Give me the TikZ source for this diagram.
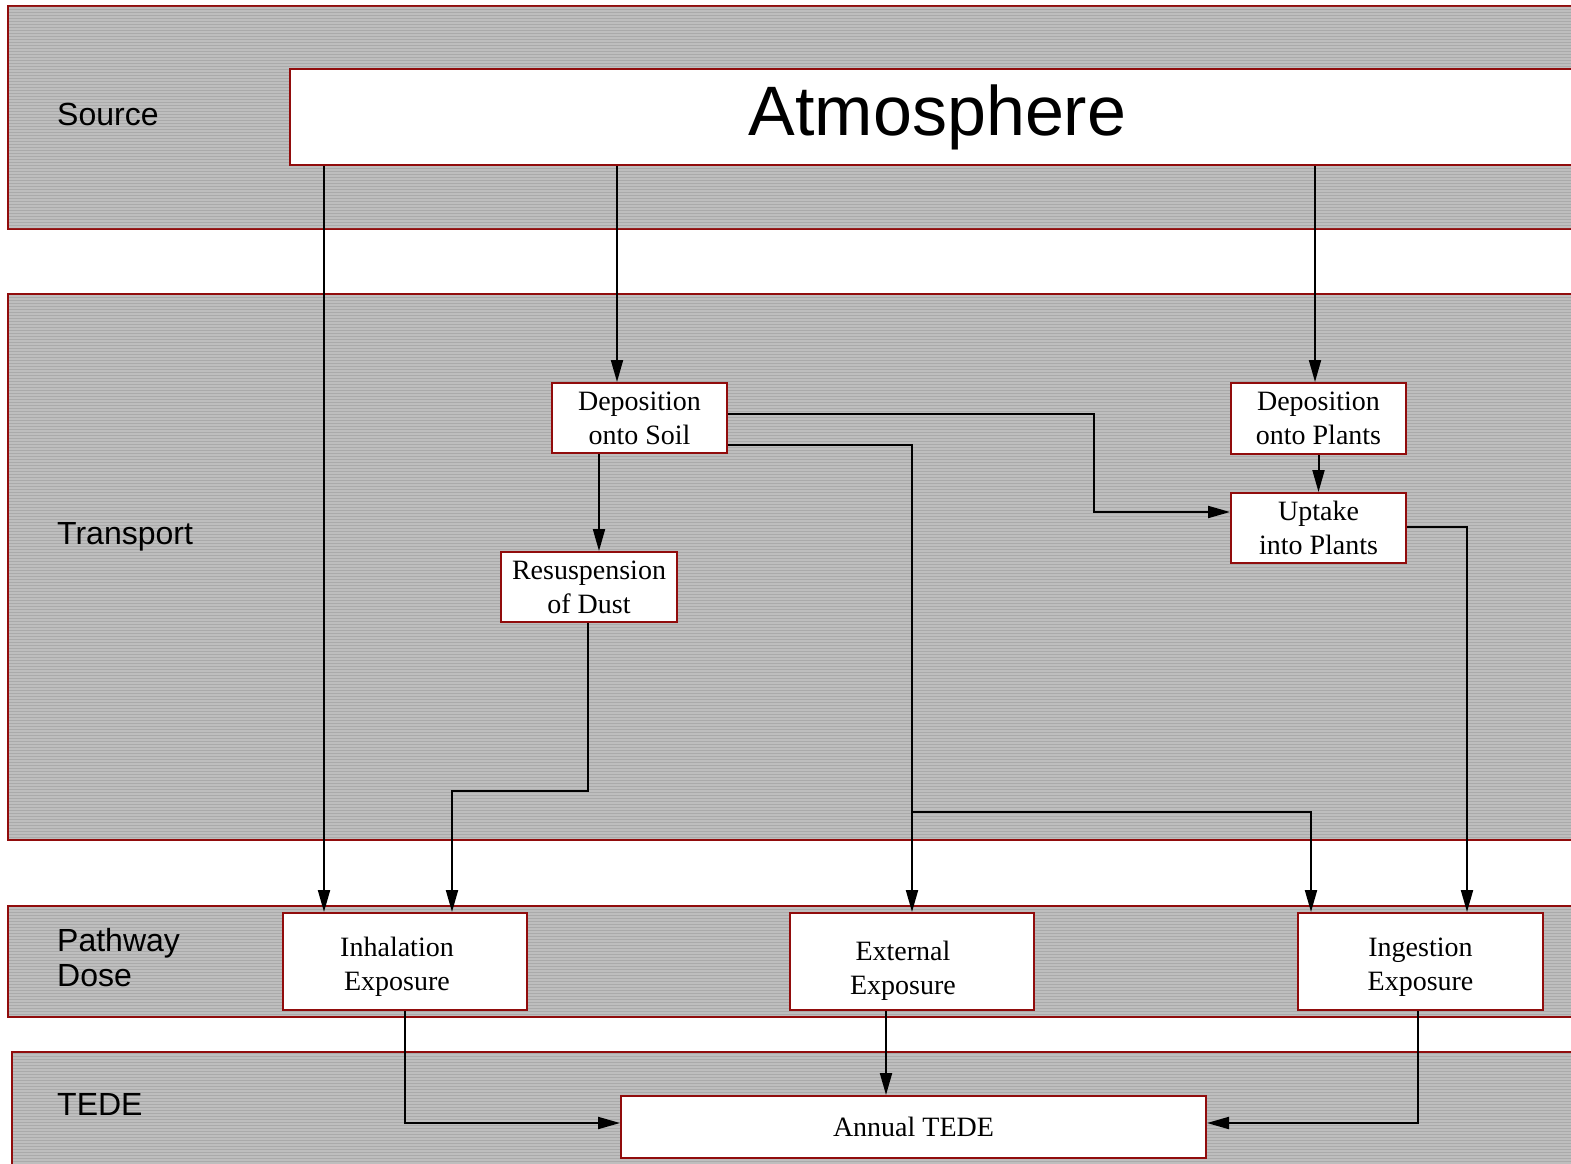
\documentclass[tikz,border=0pt]{standalone}
\usepackage{fontspec}
\setmainfont{Liberation Serif}
\newfontfamily\labelfont{Liberation Sans}
\usetikzlibrary{arrows.meta,calc}
\definecolor{bandgray}{RGB}{190,190,190}
\definecolor{bandline}{RGB}{170,170,170}
\definecolor{edgered}{RGB}{145,12,12}
\tikzset{
  band/.style={draw=edgered, line width=2pt, fill=bandgray},
  bandlabel/.style={anchor=west, align=left, inner sep=0pt,
    font=\labelfont\fontsize{32}{38}\selectfont},
  boxtext/.style={align=center, inner sep=0pt, font=\fontsize{28}{34}\selectfont},
  stepbox/.style={draw=edgered, line width=2pt, fill=white, boxtext},
  arr/.style={draw=black, line width=2pt, -{Triangle[length=22pt,width=12pt]}},
}
\begin{document}
\begin{tikzpicture}[x=1pt, y=-1pt]
\useasboundingbox (0,0) rectangle (1571,1164);
\clip (0,0) rectangle (1571,1164);
\fill[white] (0,0) rectangle (1571,1164);

% horizontal layers
\draw[band] (8,6) rectangle (1600,229);
\draw[band] (8,294) rectangle (1600,840);
\draw[band] (8,906) rectangle (1600,1017);
\draw[band] (12,1052) rectangle (1600,1200);
% fine horizontal ruling of the layers
\begin{scope}
  \clip (9,7) rectangle (1600,228) (9,295) rectangle (1600,839)
        (9,907) rectangle (1600,1016) (13,1053) rectangle (1600,1200);
  \foreach \yy in {6,9,...,1200} \draw[bandline, line width=0.8pt] (0,\yy) -- (1600,\yy);
\end{scope}

\node[bandlabel] (lsource) at (57,114) {Source};
\node[bandlabel] (ltransport) at (57,537) {Transport};
\node[bandlabel] (lpathway) at (57,958) {Pathway\\[-3pt]Dose};
\node[bandlabel] (ltede) at (57,1104) {TEDE};

% boxes
\node[stepbox, minimum width=1295pt, minimum height=96pt,
      font=\labelfont\fontsize{70}{80}\selectfont] (atm) at (937.5,117) {Atmosphere};
\node[stepbox, minimum width=175pt, minimum height=70pt] (soil) at (639.5,418) {Deposition\\onto Soil};
\node[stepbox, minimum width=175pt, minimum height=71pt] (plants) at (1318.5,418.5) {Deposition\\onto Plants};
\node[stepbox, minimum width=175pt, minimum height=70pt] (uptake) at (1318.5,528) {Uptake\\into Plants};
\node[stepbox, minimum width=176pt, minimum height=70pt] (resusp) at (589,587) {Resuspension\\of Dust};
\node[stepbox, minimum width=244pt, minimum height=97pt,
      label={[boxtext, xshift=-8pt, yshift=-5pt]center:Inhalation\\Exposure}] (inhal) at (405,961.5) {};
\node[stepbox, minimum width=244pt, minimum height=97pt,
      label={[boxtext, xshift=-9pt, yshift=-9pt]center:External\\Exposure}] (ext) at (912,961.5) {};
\node[stepbox, minimum width=245pt, minimum height=97pt,
      label={[boxtext, xshift=0pt, yshift=-6pt]center:Ingestion\\Exposure}] (ingest) at (1420.5,961.5) {};
\node[stepbox, minimum width=585pt, minimum height=62pt] (tede) at (913.5,1127) {Annual TEDE};

\coordinate (split) at (912,812);

% connectors
\draw[arr] ([xshift=-81pt]inhal.north |- atm.south) -- ([xshift=-81pt]inhal.north);
\draw[arr] ([xshift=-22.5pt]soil.north |- atm.south) -- ([xshift=-22.5pt]soil.north);
\draw[arr] ([xshift=-3.5pt]plants.north |- atm.south) -- ([xshift=-3.5pt]plants.north);
\draw[arr] ([yshift=4pt]soil.east) -| ([xshift=-136pt,yshift=16pt]uptake.west) -- ([yshift=16pt]uptake.west);
\draw[arr] ([yshift=-27pt]soil.east) -| (ext.north);
\draw[arr] (split) -| ([xshift=-109.5pt]ingest.north);
\draw[arr] ([xshift=-40.5pt]soil.south) -- ([xshift=10pt]resusp.north);
\draw[arr] ([xshift=-1pt]resusp.south) -- ++(0,168) -| ([xshift=47pt]inhal.north);
\draw[arr] (plants.south) -- (uptake.north);
\draw[arr] ([yshift=1pt]uptake.east) -| ([xshift=46.5pt]ingest.north);
\draw[arr] (inhal.south) |- ([yshift=4pt]tede.west);
\draw[arr] ([xshift=-26pt]ext.south) -- ([xshift=-26pt]ext.south |- tede.north);
\draw[arr] ([xshift=-2.5pt]ingest.south) |- ([yshift=4pt]tede.east);
\end{tikzpicture}
\end{document}
